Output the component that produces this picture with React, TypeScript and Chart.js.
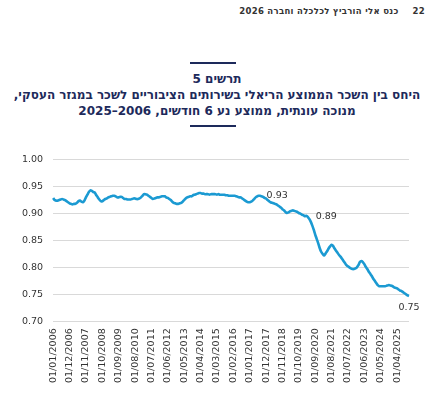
import React, { useEffect, useRef } from "react";
import Chart from "chart.js/auto";

const START_YEAR = 2006;
const MONTHS = 240;
const TICK_EVERY = 11;

// Ratio, seasonally adjusted, 6-month moving average (one row per year)
const ratio: number[] = [
  0.929, 0.925, 0.924, 0.924, 0.925, 0.926, 0.927, 0.926, 0.925, 0.923, 0.921, 0.919,
  0.918, 0.917, 0.918, 0.918, 0.920, 0.923, 0.924, 0.922, 0.921, 0.924, 0.930, 0.935,
  0.940, 0.943, 0.942, 0.940, 0.939, 0.934, 0.930, 0.926, 0.923, 0.923, 0.925, 0.927,
  0.928, 0.930, 0.931, 0.932, 0.933, 0.933, 0.932, 0.930, 0.930, 0.931, 0.931, 0.929,
  0.927, 0.927, 0.926, 0.926, 0.926, 0.927, 0.928, 0.928, 0.927, 0.927, 0.928, 0.930,
  0.933, 0.936, 0.936, 0.935, 0.933, 0.931, 0.929, 0.927, 0.928, 0.929, 0.930, 0.930,
  0.931, 0.932, 0.932, 0.932, 0.930, 0.929, 0.927, 0.925, 0.922, 0.920, 0.919, 0.918,
  0.918, 0.919, 0.920, 0.922, 0.925, 0.928, 0.930, 0.931, 0.932, 0.932, 0.934, 0.935,
  0.936, 0.937, 0.938, 0.938, 0.937, 0.937, 0.936, 0.936, 0.936, 0.935, 0.936, 0.936,
  0.936, 0.936, 0.935, 0.936, 0.935, 0.935, 0.935, 0.935, 0.934, 0.934, 0.933, 0.933,
  0.933, 0.933, 0.933, 0.932, 0.931, 0.930, 0.930, 0.928, 0.926, 0.924, 0.922, 0.921,
  0.921, 0.922, 0.924, 0.927, 0.930, 0.932, 0.933, 0.933, 0.932, 0.931, 0.929, 0.928,
  0.925, 0.923, 0.921, 0.920, 0.919, 0.918, 0.917, 0.915, 0.913, 0.911, 0.908, 0.906,
  0.903, 0.901, 0.902, 0.904, 0.905, 0.906, 0.905, 0.904, 0.903, 0.901, 0.900, 0.898,
  0.897, 0.895, 0.896, 0.894, 0.890, 0.885, 0.878, 0.870, 0.861, 0.853, 0.845, 0.836,
  0.829, 0.825, 0.822, 0.826, 0.830, 0.835, 0.839, 0.842, 0.840, 0.835, 0.831, 0.827,
  0.823, 0.820, 0.816, 0.812, 0.808, 0.804, 0.802, 0.800, 0.798, 0.797, 0.797, 0.798,
  0.800, 0.804, 0.810, 0.812, 0.810, 0.806, 0.801, 0.797, 0.792, 0.788, 0.784, 0.779,
  0.775, 0.771, 0.767, 0.765, 0.765, 0.765, 0.765, 0.765, 0.766, 0.767, 0.767, 0.766,
  0.765, 0.763, 0.762, 0.761, 0.759, 0.757, 0.756, 0.754, 0.752, 0.750, 0.748, 0.747,
];

// indices of annotated points, and where their label sits
const labelledPoints: number[] = [138, 171, 239];
const labelSides: string[] = ["right", "right", "below"];

const yTicks: number[] = [0.7, 0.75, 0.8, 0.85, 0.9, 0.95, 1.0];

const HEADER = "כנס אלי הורביץ לכלכלה וחברה 2026";
const PAGE = "22";
const TITLE_LINES: string[] = [
  "תרשים 5",
  "היחס בין השכר הממוצע הריאלי בשירותים הציבוריים לשכר במגזר העסקי,",
  "מנוכה עונתית, ממוצע נע 6 חודשים, 2006–2025",
];

const categories: string[] = [];
for (let i = 0; i < MONTHS; i++) {
  const y = START_YEAR + Math.floor(i / 12);
  const m = (i % 12) + 1;
  categories.push(`01/${m < 10 ? "0" + m : m}/${y}`);
}

const NAVY = "#1d2a5b";
const LINE = "#1b9ad2";
const FONT = "'DejaVu Sans', Verdana, sans-serif";

const valueLabels = {
  id: "valueLabels",
  afterDatasetsDraw(chart: any) {
    const meta = chart.getDatasetMeta(0);
    const ctx = chart.ctx;
    ctx.save();
    ctx.font = `9.5px ${FONT}`;
    ctx.fillStyle = "#333333";
    labelledPoints.forEach((idx, k) => {
      const el = meta.data[idx];
      if (!el) return;
      const txt = ratio[idx].toFixed(2);
      if (labelSides[k] === "below") {
        ctx.textAlign = "center";
        ctx.textBaseline = "middle";
        ctx.fillText(txt, el.x, el.y + 12);
      } else {
        ctx.textAlign = "left";
        ctx.textBaseline = "middle";
        ctx.fillText(txt, el.x + 8, el.y);
      }
    });
    ctx.restore();
  },
};

function LineChart() {
  const ref = useRef<HTMLCanvasElement | null>(null);
  useEffect(() => {
    if (!ref.current) return;
    const chart = new Chart(ref.current, {
      type: "line",
      data: {
        labels: categories,
        datasets: [
          {
            data: ratio,
            borderColor: LINE,
            borderWidth: 2.6,
            pointRadius: 0,
            tension: 0.2,
            fill: false,
          },
        ],
      },
      options: {
        animation: false,
        responsive: false,
        maintainAspectRatio: false,
        layout: { padding: { left: 12, right: 25, top: 9, bottom: 5 } },
        plugins: {
          legend: { display: false },
          tooltip: { enabled: false },
        },
        scales: {
          x: {
            grid: { display: false, drawTicks: false },
            border: { display: false },
            ticks: {
              autoSkip: false,
              maxRotation: 90,
              minRotation: 90,
              padding: 7,
              color: "#333333",
              font: { family: FONT, size: 9.5 },
              callback: (_v: any, i: number) => (i % TICK_EVERY === 0 ? categories[i] : ""),
            },
          },
          y: {
            min: yTicks[0],
            max: yTicks[yTicks.length - 1],
            afterBuildTicks: (axis: any) => {
              axis.ticks = yTicks.map((v) => ({ value: v }));
            },
            grid: { color: "#d9d9d9", drawTicks: false, lineWidth: 1 },
            border: { display: false },
            ticks: {
              padding: 10,
              color: "#333333",
              font: { family: FONT, size: 9.5 },
              callback: (v: any) => Number(v).toFixed(2),
            },
          },
        },
      },
      plugins: [valueLabels],
    });
    return () => chart.destroy();
  }, []);
  return (
    <canvas
      ref={ref}
      width={434}
      height={251}
      style={{ position: "absolute", left: 0, top: 144, width: 434, height: 251 }}
    />
  );
}

export default function App() {
  useEffect(() => {
    document.body.style.margin = "0";
  }, []);
  return (
    <div
      style={{
        position: "absolute",
        left: 0,
        top: 0,
        width: 434,
        height: 407,
        background: "#ffffff",
        overflow: "hidden",
        fontFamily: FONT,
      }}
    >
      <div
        dir="rtl"
        style={{
          position: "absolute",
          right: 9,
          top: 6,
          fontSize: 8.5,
          fontWeight: "bold",
          color: "#333333",
          whiteSpace: "nowrap",
          letterSpacing: 0.3,
        }}
      >
        <span>{PAGE}</span>
        <span style={{ marginRight: 14 }}>{HEADER}</span>
      </div>
      <div
        style={{
          position: "absolute",
          left: 190,
          top: 62,
          width: 46,
          height: 2,
          background: NAVY,
        }}
      />
      <div
        dir="rtl"
        style={{
          position: "absolute",
          left: 0,
          width: 434,
          top: 71,
          textAlign: "center",
          color: NAVY,
          fontWeight: "bold",
          fontSize: 12,
          lineHeight: "16px",
          whiteSpace: "nowrap",
        }}
      >
        {TITLE_LINES.map((t, i) => (
          <div key={i}>{t}</div>
        ))}
      </div>
      <div
        style={{
          position: "absolute",
          left: 190,
          top: 125,
          width: 46,
          height: 2,
          background: NAVY,
        }}
      />
      <LineChart />
    </div>
  );
}
